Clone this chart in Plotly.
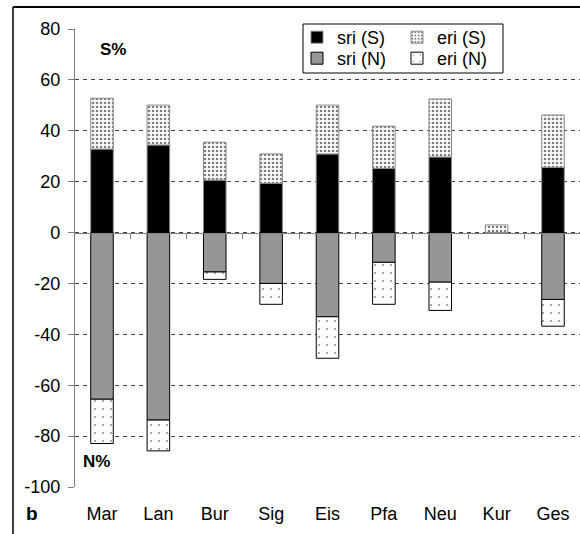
import plotly.graph_objects as go

cats = ['Mar', 'Lan', 'Bur', 'Sig', 'Eis', 'Pfa', 'Neu', 'Kur', 'Ges']
sri_S = [32.8, 34.4, 20.6, 19.3, 30.9, 25.2, 29.7, None, 25.6]
eri_S = [20.0, 15.7, 14.9, 11.6, 19.2, 16.6, 22.8, 3.0, 20.6]
sri_N = [-65.5, -73.7, -15.5, -20.0, -33.1, -11.7, -19.5, None, -26.3]
eri_N = [-17.4, -12.1, -2.9, -8.2, -16.3, -16.5, -11.1, None, -10.5]
y_ticks = [-100, -80, -60, -40, -20, 0, 20, 40, 60, 80]
y_ticktext = [str(v) for v in y_ticks]

FONT = 'Liberation Sans, Arial, sans-serif'

fig = go.Figure()
fig.add_trace(go.Bar(name='sri (S)', x=cats, y=sri_S, legend='legend',
                     marker=dict(color='black', line=dict(color='#888888', width=1))))
fig.add_trace(go.Bar(name='eri (S)', x=cats, y=eri_S, legend='legend2',
                     marker=dict(color='white', line=dict(color='#888888', width=1),
                                 pattern=dict(shape='.', size=4, solidity=0.35,
                                              fgcolor='black', bgcolor='white',
                                              fillmode='overlay'))))
fig.add_trace(go.Bar(name='sri (N)', x=cats, y=sri_N, legend='legend3',
                     marker=dict(color='#969696', line=dict(color='black', width=1))))
fig.add_trace(go.Bar(name='eri (N)', x=cats, y=eri_N, legend='legend4',
                     marker=dict(color='white', line=dict(color='black', width=1),
                                 pattern=dict(shape='.', size=8, solidity=0.04,
                                              fgcolor='black', bgcolor='white',
                                              fillmode='overlay'))))
# invisible trace to carry the zero-crossing axis with boundary ticks
fig.add_trace(go.Scatter(x=cats, y=[0] * len(cats), xaxis='x2', mode='markers',
                         marker=dict(opacity=0), showlegend=False, hoverinfo='skip'))

zero_pos = 100 / 180

def leg(x, y):
    return dict(orientation='v', x=x, y=y, xanchor='left', yanchor='middle',
                bgcolor='rgba(0,0,0,0)', borderwidth=0,
                font=dict(size=18, family=FONT, color='black'), itemwidth=30)

fig.update_layout(
    width=580, height=534, autosize=False,
    margin=dict(l=75, r=0, t=29, b=47),
    paper_bgcolor='white', plot_bgcolor='white',
    barmode='relative', bargap=0.6,
    font=dict(family=FONT, size=18, color='black'),
    showlegend=True,
    legend=leg(0.4396, 0.9815),
    legend2=leg(0.6376, 0.9815),
    legend3=leg(0.4396, 0.9356),
    legend4=leg(0.6376, 0.9356),
    xaxis=dict(type='category', categoryorder='array', categoryarray=cats,
               range=[-0.479, 8.479], showline=False, showgrid=False,
               ticks='outside', ticklen=10, tickcolor='rgba(0,0,0,0)',
               tickfont=dict(size=18)),
    xaxis2=dict(type='category', categoryorder='array', categoryarray=cats,
                matches='x', overlaying='x', anchor='free', position=zero_pos,
                side='bottom', showline=True, linecolor='#808080', linewidth=1.2,
                ticks='outside', ticklen=5, tickcolor='#808080', tickwidth=1,
                tickson='boundaries', showticklabels=False, showgrid=False),
    yaxis=dict(range=[-100, 80], tickvals=y_ticks, ticktext=y_ticktext, showgrid=True,
               gridcolor='#444444', griddash='4px,4px', gridwidth=1,
               zeroline=False, showline=True, linecolor='#808080', linewidth=1.2,
               ticks='outside', ticklen=6, tickcolor='#808080',
               tickfont=dict(size=18), ticklabelstandoff=4),
)

fig.add_annotation(text='<b>S%</b>', xref='paper', yref='paper', x=0.0752, y=0.9563,
                   xanchor='center', yanchor='middle',
                   showarrow=False, font=dict(size=17, family=FONT))
fig.add_annotation(text='<b>N%</b>', xref='paper', yref='paper', x=0.0416, y=0.0546,
                   xanchor='center', yanchor='middle',
                   showarrow=False, font=dict(size=17, family=FONT))
fig.add_annotation(text='<b>b</b>', xref='paper', yref='paper', x=-0.085, y=-0.058,
                   xanchor='center', yanchor='middle',
                   showarrow=False, font=dict(size=19, family=FONT))

# legend frame
fig.add_shape(type='rect', xref='paper', yref='paper', x0=0.4515, x1=0.8475,
              y0=0.9039, y1=1.0109, line=dict(color='black', width=1),
              fillcolor='white', layer='above')
# outer figure frame: top edge and left edge
fig.add_shape(type='line', xref='paper', yref='paper', x0=-0.1228, x1=1.0,
              y0=1.048, y1=1.048, line=dict(color='black', width=2), layer='below')
fig.add_shape(type='line', xref='paper', yref='paper', x0=-0.1228, x1=-0.1228,
              y0=-0.2, y1=1.048, line=dict(color='black', width=1.5), layer='above')

fig.write_html('out.html', config={'displayModeBar': False},
               post_script="document.body.style.margin='0';")
